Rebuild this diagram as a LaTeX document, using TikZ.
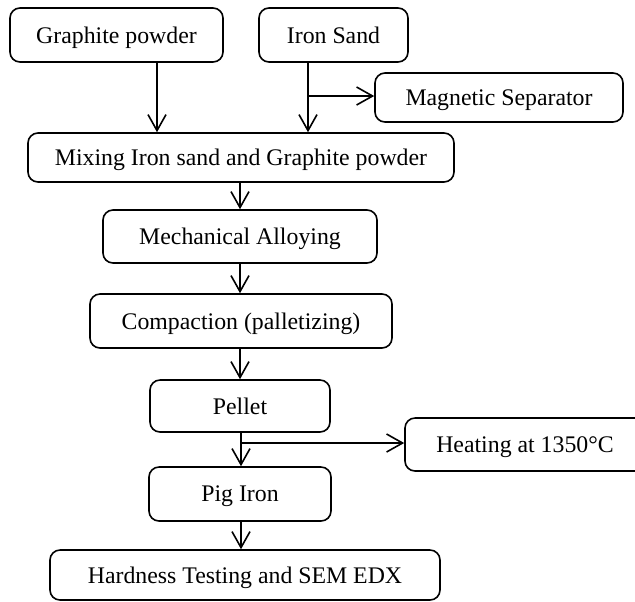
\documentclass[tikz,border=0pt]{standalone}
\usepackage{fontspec}
\setmainfont{Liberation Serif}
\usetikzlibrary{%
  arrows.meta,%
  positioning%
}
\tikzset{>={Straight Barb[length=8pt,width=9pt]}}
\tikzset{stage/.style={draw,rounded corners=5pt,line width=0.8pt,inner sep=0pt,
    text depth=0pt,font=\fontsize{11.9}{14}\selectfont}}

\begin{document}
\begin{tikzpicture}[x=0.5pt,y=-0.5pt]
        \useasboundingbox (0,0) rectangle (635,601);
        % boxes
        \node[stage,minimum width=106.5pt,minimum height=27pt] (graphite) at (116.5,35) {Graphite powder};
        \node[stage,minimum width=74.5pt,minimum height=27pt] (ironsand) at (333.5,35) {Iron Sand};
        \node[stage,minimum width=124pt,minimum height=24.5pt] (magnetic) at (499,97.5) {Magnetic Separator};
        \node[stage,minimum width=213pt,minimum height=24.5pt] (mixing) at (241,157.5) {Mixing Iron sand and Graphite powder};
        \node[stage,minimum width=137pt,minimum height=26.5pt] (alloying) at (240,236.5) {Mechanical Alloying};
        \node[stage,minimum width=151pt,minimum height=27pt] (compaction) at (241,321) {Compaction (palletizing)};
        \node[stage,minimum width=90pt,minimum height=26pt] (pellet) at (240,406) {Pellet};
        \node[stage,minimum width=120pt,minimum height=26.5pt] (heating) at (525,444.5) {Heating at 1350°C};
        \node[stage,minimum width=91pt,minimum height=27pt] (pigiron) at (240,494) {Pig Iron};
        \node[stage,minimum width=195pt,minimum height=25pt] (hardness) at (245,575) {Hardness Testing and SEM EDX};
        % connectors
        \coordinate (gx) at (157,0);
        \coordinate (sx) at (308,0);
        \coordinate (mx) at (240,0);
        \coordinate (px) at (241,0);
        \coordinate (sbranch) at (308,96);
        \coordinate (pbranch) at (241,443);
        \draw[->,line width=0.8pt] (graphite.south -| gx) -- (mixing.north -| gx);
        \draw[->,line width=0.8pt] (ironsand.south -| sx) -- (mixing.north -| sx);
        \draw[->,line width=0.8pt] (sbranch) -- (sbranch -| magnetic.west);
        \draw[->,line width=0.8pt] (mixing.south -| mx) -- (alloying.north -| mx);
        \draw[->,line width=0.8pt] (alloying.south -| mx) -- (compaction.north -| mx);
        \draw[->,line width=0.8pt] (compaction.south -| mx) -- (pellet.north -| mx);
        \draw[->,line width=0.8pt] (pellet.south -| px) -- (pigiron.north -| px);
        \draw[->,line width=0.8pt] (pbranch) -- (pbranch -| heating.west);
        \draw[->,line width=0.8pt] (pigiron.south -| px) -- (hardness.north -| px);
      \end{tikzpicture}
\end{document}
